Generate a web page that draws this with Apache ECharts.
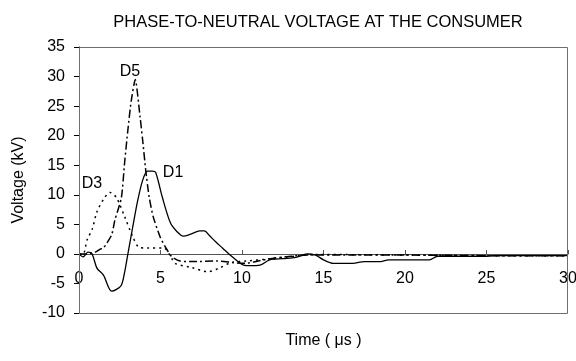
<!DOCTYPE html>
<html>
<head>
<meta charset="utf-8">
<script src="https://cdn.jsdelivr.net/npm/echarts@6/dist/echarts.min.js"></script>
<style>
  html, body { margin: 0; padding: 0; background: #fff; }
  #chart { width: 576px; height: 361px; }
</style>
</head>
<body>
<div id="chart"></div>
<script>
// D1 - solid
const d1Time = [0, 0.25, 0.55, 0.8, 1.1, 1.5, 2.0, 2.3, 2.6, 2.8, 3.0, 3.3, 3.6, 3.9, 4.2, 4.5, 4.7, 5.1, 5.6, 6.0, 6.4, 6.9, 7.4, 7.7, 8.0, 8.4, 8.8, 9.4, 10.1, 10.5, 11.1, 11.7, 12.5, 13.3, 14.0, 14.5, 15.0, 15.6, 16.8, 17.5, 18.5, 19.0, 21.5, 22.0, 25.0, 25.5, 30];
const d1Volt = [0, -0.5, 0.3, 0, -2.4, -3.6, -6.3, -6.0, -5.3, -3.1, 0, 4.6, 9.0, 12.4, 14.0, 14.0, 13.8, 9.7, 5.3, 3.8, 3.0, 3.4, 3.9, 3.9, 3.1, 2.0, 1.0, -0.5, -1.9, -2.0, -1.9, -1.0, -0.8, -0.6, 0, -0.2, -1.0, -1.6, -1.6, -1.3, -1.3, -1.0, -1.0, -0.4, -0.4, -0.3, -0.3];

// D3 - dotted
const d3Time = [0, 0.25, 0.5, 0.8, 1.1, 1.5, 1.9, 2.3, 2.8, 3.3, 3.7, 4.2, 5.2, 5.6, 5.9, 6.9, 7.9, 8.6, 9.3, 10.3, 11.5, 12.5, 13.5, 14.5, 20, 25, 30];
const d3Volt = [0, 0, 2.4, 4.1, 7.1, 9.2, 10.4, 9.5, 6.3, 2.9, 1.1, 1.0, 1.0, -0.3, -1.6, -2.3, -3.0, -2.4, -1.5, -1.2, -0.9, -0.6, -0.3, -0.1, -0.2, -0.3, -0.3];

// D5 - dash-dot
const d5Time = [0, 0.5, 1.0, 1.3, 1.5, 2.0, 2.2, 2.6, 2.8, 3.0, 3.2, 3.45, 3.75, 3.9, 4.1, 4.3, 4.55, 5.0, 5.4, 5.7, 6.2, 7.0, 8.5, 9.5, 10.2, 11, 12, 13, 14, 20, 25, 30];
const d5Volt = [0, 0, 0.3, 0.8, 1.0, 3.2, 5.7, 9.5, 15.5, 21.0, 25.8, 29.5, 23.1, 19.4, 14.0, 9.7, 6.3, 2.7, 0.7, -0.5, -1.2, -1.3, -1.2, -1.5, -1.6, -1.2, -0.7, -0.4, -0.2, -0.2, -0.3, -0.3];

// series label anchors [time, voltage]
const labelAt = { D1: [5.77, 13.8], D3: [0.8, 11.9], D5: [3.13, 30.8] };

const titleText = 'PHASE-TO-NEUTRAL VOLTAGE AT THE CONSUMER';
const xName = 'Time ( \u03bcs )';
const yName = 'Voltage (kV)';

const zip = (t, v) => t.map((x, i) => [x, v[i]]);
const font = '"Liberation Sans", Arial, sans-serif';
const frameColor = '#6e6e6e';
const W = 576, H = 361;
const pad = { left: 79, right: 8, top: 47, bottom: 48 };

const chart = echarts.init(document.getElementById('chart'));

const mkLabel = name => ({
  symbol: 'circle',
  symbolSize: 1,
  silent: true,
  itemStyle: { color: 'rgba(0,0,0,0)' },
  data: [{ coord: labelAt[name], value: name }],
  label: { show: true, position: 'inside', formatter: name, color: '#000', fontSize: 16, fontFamily: font }
});

chart.setOption({
  animation: false,
  backgroundColor: '#fff',
  title: {
    text: titleText,
    left: 313,
    textAlign: 'center',
    top: 9,
    textStyle: { fontSize: 16.5, fontWeight: 'normal', color: '#000', fontFamily: font }
  },
  grid: Object.assign({ containLabel: false, outerBoundsMode: 'none' }, pad),
  // plot-area frame, same box as the grid
  graphic: [{
    type: 'rect',
    silent: true,
    z: 100,
    shape: { x: pad.left + 0.5, y: pad.top + 0.5, width: W - pad.left - pad.right - 1, height: H - pad.top - pad.bottom },
    style: { fill: null, stroke: frameColor, lineWidth: 1 }
  }],
  xAxis: {
    type: 'value',
    min: 0, max: 30, interval: 5,
    // Excel-style: the x axis crosses at y = 0 (labels included)
    offset: -59,
    name: xName,
    nameLocation: 'middle',
    nameGap: 79,
    nameTextStyle: { fontSize: 16, color: '#000', fontFamily: font },
    axisLine: { onZero: false, lineStyle: { color: '#555', width: 1 } },
    axisTick: { show: true, inside: true, length: 4, lineStyle: { color: '#555' } },
    axisLabel: { fontSize: 16, color: '#000', fontFamily: font, margin: 17 },
    splitLine: { show: false }
  },
  yAxis: {
    type: 'value',
    min: -10, max: 35, interval: 5,
    name: yName,
    nameLocation: 'middle',
    nameGap: 52,
    nameTextStyle: { fontSize: 16, color: '#000', fontFamily: font },
    axisLine: { show: true, onZero: false, lineStyle: { color: '#000', width: 1 } },
    axisTick: { show: true, length: 5, lineStyle: { color: '#000' } },
    axisLabel: { fontSize: 16, color: '#000', fontFamily: font, margin: 14 },
    splitLine: { show: false }
  },
  series: [
    {
      name: 'D1', type: 'line', data: zip(d1Time, d1Volt), symbol: 'none', smooth: 0.3,
      lineStyle: { color: '#000', width: 1.3, type: 'solid' },
      markPoint: mkLabel('D1')
    },
    {
      name: 'D3', type: 'line', data: zip(d3Time, d3Volt), symbol: 'none', smooth: 0.3,
      lineStyle: { color: '#000', width: 1.5, type: [2, 4] },
      markPoint: mkLabel('D3')
    },
    {
      name: 'D5', type: 'line', data: zip(d5Time, d5Volt), symbol: 'none', smooth: 0.2,
      lineStyle: { color: '#000', width: 1.5, type: [8, 3, 2, 3] },
      markPoint: mkLabel('D5')
    }
  ]
});
</script>
</body>
</html>
